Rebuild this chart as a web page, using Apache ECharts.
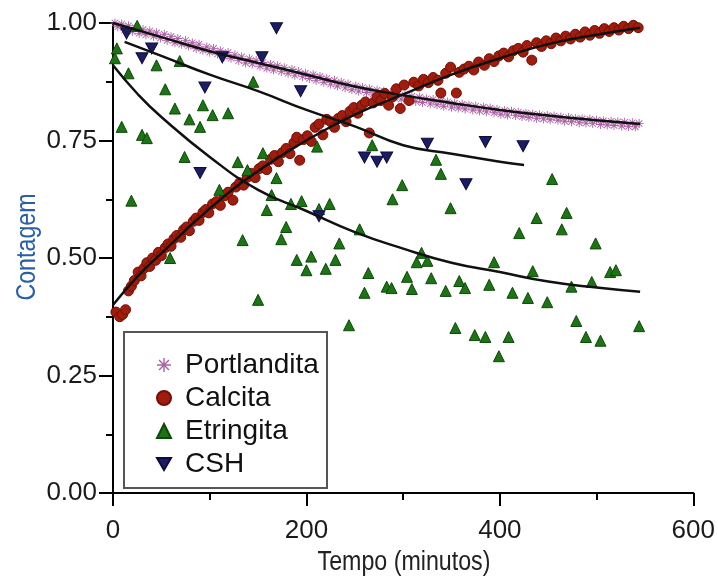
<!DOCTYPE html>
<html>
<head>
<meta charset="utf-8">
<title>Contagem x Tempo</title>
<script src="https://cdn.jsdelivr.net/npm/echarts@6/dist/echarts.min.js"></script>
<style>
    html, body { margin: 0; padding: 0; background: #fff; }
    #chart { width: 718px; height: 585px; }
</style>
</head>
<body>
<div id="chart"></div>
<script>
// 刻度
const xTicks = [0, 200, 400, 600];
const yTicks = [0, 0.25, 0.5, 0.75, 1.0];

// 各相的测量点 [tempo, contagem]
const portlandita = [
    [2, 1.0], [5, 0.992], [9, 0.998], [12, 0.985], [16, 0.994], [20, 0.982], [23, 0.99], [27, 0.978],
    [31, 0.986], [34, 0.975], [38, 0.983], [42, 0.972], [45, 0.979], [49, 0.968], [53, 0.976], [56, 0.963],
    [60, 0.971], [64, 0.958], [67, 0.967], [71, 0.955], [75, 0.963], [78, 0.951], [82, 0.958], [86, 0.946],
    [89, 0.955], [93, 0.942], [97, 0.949], [100, 0.938], [104, 0.946], [108, 0.934], [111, 0.941], [115, 0.929],
    [119, 0.937], [122, 0.925], [126, 0.932], [130, 0.92], [133, 0.928], [137, 0.915], [141, 0.924], [144, 0.913],
    [148, 0.92], [152, 0.908], [155, 0.916], [159, 0.904], [163, 0.912], [166, 0.9], [170, 0.909], [174, 0.897],
    [177, 0.905], [181, 0.893], [185, 0.901], [188, 0.889], [192, 0.897], [196, 0.886], [199, 0.893], [203, 0.882],
    [207, 0.89], [210, 0.878], [214, 0.886], [218, 0.874], [221, 0.882], [225, 0.87], [229, 0.878], [232, 0.866],
    [236, 0.874], [240, 0.862], [243, 0.87], [247, 0.858], [251, 0.866], [254, 0.855], [258, 0.863], [262, 0.852],
    [265, 0.86], [269, 0.849], [273, 0.857], [276, 0.846], [280, 0.855], [284, 0.843], [287, 0.852], [291, 0.841],
    [295, 0.849], [298, 0.838], [302, 0.847], [306, 0.836], [309, 0.844], [313, 0.833], [317, 0.842], [320, 0.831],
    [324, 0.839], [328, 0.828], [331, 0.837], [335, 0.826], [339, 0.834], [342, 0.823], [346, 0.832], [350, 0.821],
    [353, 0.829], [357, 0.819], [361, 0.827], [364, 0.817], [368, 0.825], [372, 0.815], [375, 0.823], [379, 0.813],
    [383, 0.821], [386, 0.811], [390, 0.819], [394, 0.809], [397, 0.816], [401, 0.806], [405, 0.814], [408, 0.804],
    [412, 0.812], [416, 0.803], [419, 0.81], [423, 0.801], [427, 0.808], [430, 0.799], [434, 0.806], [438, 0.797],
    [441, 0.805], [445, 0.796], [449, 0.803], [452, 0.794], [456, 0.802], [460, 0.793], [463, 0.8], [467, 0.791],
    [471, 0.799], [474, 0.79], [478, 0.797], [482, 0.788], [485, 0.796], [489, 0.787], [493, 0.795], [496, 0.786],
    [500, 0.793], [504, 0.784], [507, 0.792], [511, 0.783], [515, 0.791], [518, 0.782], [522, 0.79], [526, 0.781],
    [529, 0.789], [533, 0.78], [537, 0.788], [540, 0.779], [544, 0.786]
];

const calcita = [
    [3, 0.385], [7, 0.375], [10, 0.38], [13, 0.39], [16, 0.43], [19, 0.44], [22, 0.452], [26, 0.47],
    [29, 0.462], [32, 0.478], [35, 0.49], [38, 0.482], [41, 0.5], [44, 0.495], [47, 0.512], [50, 0.505],
    [54, 0.522], [57, 0.53], [60, 0.525], [63, 0.541], [66, 0.548], [70, 0.544], [73, 0.56], [76, 0.566],
    [79, 0.558], [83, 0.578], [86, 0.585], [89, 0.58], [93, 0.597], [96, 0.603], [99, 0.596], [103, 0.615],
    [107, 0.62], [111, 0.612], [115, 0.632], [119, 0.64], [124, 0.623], [127, 0.651], [131, 0.66], [135, 0.655],
    [139, 0.672], [143, 0.68], [147, 0.671], [151, 0.69], [155, 0.696], [159, 0.688], [163, 0.71], [167, 0.718],
    [171, 0.705], [175, 0.724], [179, 0.733], [183, 0.722], [187, 0.745], [190, 0.757], [193, 0.708], [197, 0.752],
    [201, 0.76], [205, 0.748], [209, 0.778], [213, 0.785], [217, 0.762], [221, 0.795], [225, 0.79], [229, 0.778],
    [233, 0.797], [237, 0.803], [241, 0.79], [245, 0.812], [249, 0.82], [253, 0.808], [257, 0.825], [261, 0.832],
    [265, 0.766], [269, 0.83], [273, 0.842], [277, 0.835], [281, 0.85], [285, 0.825], [289, 0.843], [293, 0.86],
    [297, 0.818], [301, 0.868], [306, 0.835], [311, 0.874], [316, 0.866], [321, 0.88], [326, 0.873], [331, 0.884],
    [336, 0.878], [339, 0.851], [344, 0.893], [349, 0.906], [355, 0.851], [358, 0.895], [363, 0.902], [368, 0.908],
    [373, 0.9], [378, 0.917], [384, 0.91], [389, 0.924], [394, 0.918], [399, 0.93], [404, 0.936], [409, 0.928],
    [414, 0.941], [419, 0.946], [424, 0.938], [428, 0.952], [433, 0.921], [438, 0.958], [443, 0.95], [448, 0.962],
    [453, 0.956], [458, 0.968], [463, 0.962], [468, 0.972], [473, 0.966], [478, 0.976], [483, 0.97], [488, 0.981],
    [493, 0.974], [498, 0.984], [503, 0.978], [508, 0.988], [513, 0.982], [518, 0.99], [523, 0.985], [528, 0.993],
    [533, 0.988], [538, 0.995], [543, 0.99]
];

const etringita = [
    [2, 0.925], [4, 0.946], [9, 0.779], [16, 0.893], [19, 0.622], [25, 0.994], [30, 0.762], [35, 0.755],
    [45, 0.91], [54, 0.859], [59, 0.5], [64, 0.818], [69, 0.919], [74, 0.715], [79, 0.795], [90, 0.779],
    [93, 0.825], [103, 0.804], [110, 0.645], [119, 0.808], [129, 0.704], [134, 0.538], [139, 0.687], [145, 0.875],
    [150, 0.411], [155, 0.723], [159, 0.602], [164, 0.634], [169, 0.67], [174, 0.54], [179, 0.566], [184, 0.615],
    [190, 0.496], [195, 0.621], [200, 0.474], [205, 0.503], [211, 0.737], [213, 0.604], [220, 0.477], [224, 0.615],
    [230, 0.496], [234, 0.531], [244, 0.357], [255, 0.561], [260, 0.426], [264, 0.468], [268, 0.74], [283, 0.439],
    [288, 0.436], [289, 0.625], [299, 0.655], [304, 0.46], [309, 0.434], [314, 0.491], [319, 0.511], [325, 0.494],
    [329, 0.457], [334, 0.709], [339, 0.679], [344, 0.43], [349, 0.606], [354, 0.351], [358, 0.451], [364, 0.436],
    [374, 0.336], [385, 0.332], [389, 0.443], [394, 0.491], [399, 0.291], [409, 0.332], [413, 0.426], [420, 0.553],
    [429, 0.415], [434, 0.472], [438, 0.585], [449, 0.406], [454, 0.668], [464, 0.561], [469, 0.596], [474, 0.439],
    [479, 0.366], [489, 0.332], [495, 0.449], [499, 0.531], [504, 0.324], [514, 0.47], [520, 0.474], [544, 0.355]
];

const csh = [
    [14, 0.978], [30, 0.925], [40, 0.946], [90, 0.681], [95, 0.863], [113, 0.927], [154, 0.927], [169, 0.989],
    [194, 0.855], [213, 0.589], [260, 0.714], [273, 0.705], [283, 0.714], [325, 0.743], [365, 0.657], [385, 0.747],
    [424, 0.738]
];

// 拟合曲线
const fitPortlandita = [[0, 1.0], [50, 0.97], [100, 0.94], [150, 0.915], [200, 0.89], [250, 0.865], [300, 0.846],
    [350, 0.83], [400, 0.815], [450, 0.803], [500, 0.793], [545, 0.785]];
const fitCalcita = [[0, 0.4], [25, 0.46], [50, 0.51], [100, 0.605], [150, 0.685], [200, 0.75], [250, 0.805],
    [300, 0.848], [350, 0.89], [400, 0.925], [450, 0.955], [500, 0.975], [545, 0.99]];
const fitEtringita = [[0, 0.91], [25, 0.85], [50, 0.8], [100, 0.715], [150, 0.645], [200, 0.6], [250, 0.555],
    [300, 0.52], [350, 0.49], [400, 0.47], [450, 0.45], [500, 0.437], [545, 0.428]];
const fitCsh = [[12, 0.96], [50, 0.93], [100, 0.89], [150, 0.855], [200, 0.815], [250, 0.78], [300, 0.74],
    [350, 0.722], [400, 0.705], [425, 0.698]];

// 符号：星号 / 倒三角（图例也能正确显示）
const asterisk = 'path://M-1,-10L1,-10L1,10L-1,10Z M-10,-1L10,-1L10,1L-10,1Z ' +
    'M-7.8,-6.4L-6.4,-7.8L7.8,6.4L6.4,7.8Z M6.4,-7.8L7.8,-6.4L-6.4,7.8L-7.8,6.4Z';
const triangleDown = 'path://M-10,0L10,0L0,17Z';

const FONT = '"Liberation Sans", Arial, sans-serif';

const chart = echarts.init(document.getElementById('chart'));

function fitLine(name, data) {
    return {
        name: name,
        type: 'line',
        data: data,
        smooth: true,
        showSymbol: false,
        silent: true,
        lineStyle: { color: '#111', width: 2.5 },
        z: 3
    };
}

// 轴标题字体较窄，用 graphic 文本横向压缩
function axisTitle(text, x, y, rotation, color) {
    return {
        type: 'text',
        x: x,
        y: y,
        rotation: rotation,
        scaleX: 0.86,
        style: {
            text: text,
            x: 0,
            y: 0,
            align: 'center',
            verticalAlign: 'middle',
            font: '27px ' + FONT,
            fill: color
        },
        z: 6
    };
}

const option = {
    animation: false,
    backgroundColor: '#fff',
    grid: { left: 113, right: 23, top: 23, bottom: 92 },
    legend: {
        data: ['Portlandita', 'Calcita', 'Etringita', 'CSH'],
        orient: 'vertical',
        left: 151,
        top: 346,
        itemWidth: 14,
        itemHeight: 14,
        itemGap: 5,
        textStyle: { fontFamily: FONT, fontSize: 28, color: '#111', padding: [0, 0, 0, 9] },
        z: 5
    },
    graphic: [
        {
            type: 'rect',
            shape: { x: 124, y: 332, width: 203, height: 156 },
            style: { fill: '#fff', stroke: '#555', lineWidth: 2 },
            z: 4
        },
        axisTitle('Tempo (minutos)', 404, 563, 0, '#222'),
        axisTitle('Contagem', 28, 247, Math.PI / 2, '#2a5fa8')
    ],
    xAxis: {
        type: 'value',
        min: 0,
        max: 600,
        interval: 200,
        axisLine: { lineStyle: { color: '#000', width: 2 } },
        axisTick: { length: 13, lineStyle: { color: '#000', width: 2 } },
        minorTick: { show: true, splitNumber: 2, length: 7, lineStyle: { color: '#000', width: 2 } },
        axisLabel: {
            margin: 25, fontFamily: FONT, fontSize: 26, color: '#1a1a1a',
            customValues: xTicks
        },
        splitLine: { show: false }
    },
    yAxis: {
        type: 'value',
        min: 0,
        max: 1,
        interval: 0.25,
        axisLine: { show: true, lineStyle: { color: '#000', width: 2 } },
        axisTick: { show: true, length: 14, lineStyle: { color: '#000', width: 2 } },
        minorTick: { show: true, splitNumber: 2, length: 7, lineStyle: { color: '#000', width: 2 } },
        axisLabel: {
            margin: 16, fontFamily: FONT, fontSize: 26, color: '#1a1a1a',
            customValues: yTicks,
            formatter: v => v.toFixed(2)
        },
        splitLine: { show: false }
    },
    series: [
        {
            name: 'Portlandita',
            type: 'scatter',
            data: portlandita,
            symbol: asterisk,
            symbolSize: 9,
            itemStyle: { color: '#ac62a4', opacity: 1 }
        },
        {
            name: 'Calcita',
            type: 'scatter',
            data: calcita,
            symbol: 'circle',
            symbolSize: 10,
            itemStyle: { color: '#a01c0c', borderColor: '#701006', borderWidth: 1, opacity: 1 }
        },
        {
            name: 'Etringita',
            type: 'scatter',
            data: etringita,
            symbol: 'triangle',
            symbolSize: 11,
            itemStyle: { color: '#1c7414', borderColor: '#0e480a', borderWidth: 1, opacity: 1 }
        },
        {
            name: 'CSH',
            type: 'scatter',
            data: csh,
            symbol: triangleDown,
            symbolSize: [12, 11],
            itemStyle: { color: '#1c1c62', borderColor: '#0c0c40', borderWidth: 1, opacity: 1 }
        },
        fitLine('fit-portlandita', fitPortlandita),
        fitLine('fit-calcita', fitCalcita),
        fitLine('fit-etringita', fitEtringita),
        fitLine('fit-csh', fitCsh)
    ]
};

chart.setOption(option);
</script>
</body>
</html>
